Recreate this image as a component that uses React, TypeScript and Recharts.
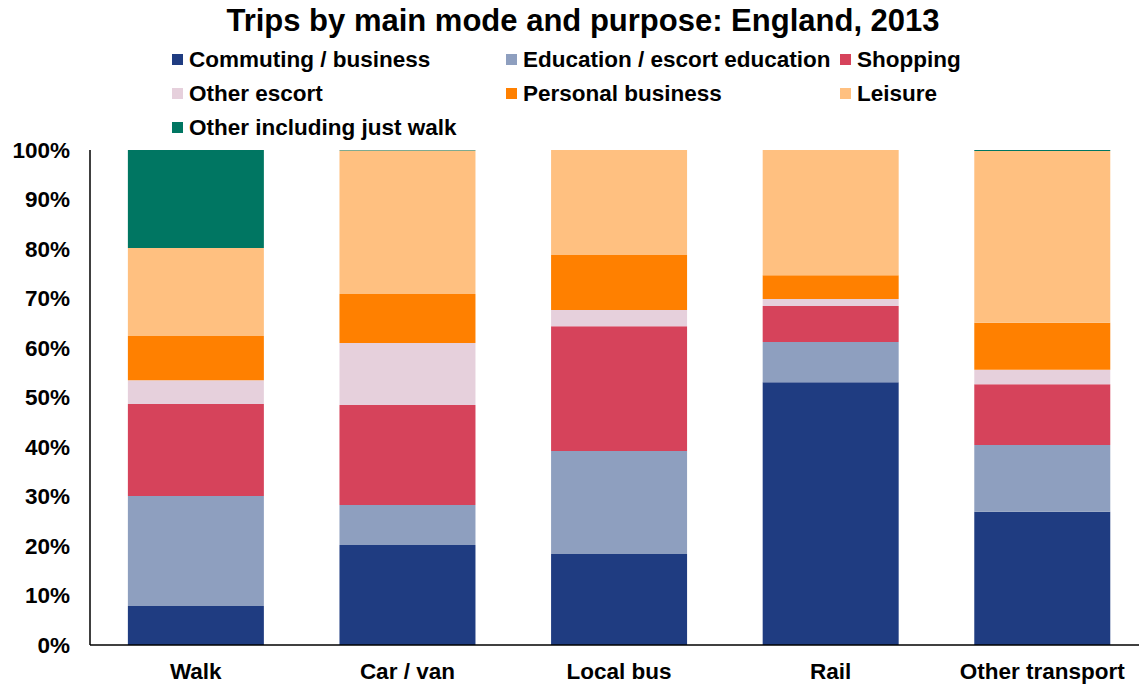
import { Bar, BarChart, XAxis, YAxis } from "recharts"

const modes = ["Walk", "Car / van", "Local bus", "Rail", "Other transport"]

const commuting = [7.9, 20.2, 18.4, 53.1, 26.9]
const education = [22.2, 8.1, 20.8, 8.1, 13.5]
const shopping = [18.6, 20.2, 25.2, 7.3, 12.3]
const otherEscort = [4.8, 12.5, 3.3, 1.4, 2.9]
const personal = [8.9, 9.9, 11.1, 4.8, 9.5]
const leisure = [17.8, 29.0, 21.2, 25.3, 34.7]
const otherWalk = [19.8, 0.1, 0, 0, 0.2]

const yTicks = [0, 10, 20, 30, 40, 50, 60, 70, 80, 90, 100]

const series = [
  { key: "commuting", name: "Commuting / business", color: "#1F3C81", values: commuting },
  { key: "education", name: "Education / escort education", color: "#8E9FBF", values: education },
  { key: "shopping", name: "Shopping", color: "#D6435B", values: shopping },
  { key: "otherEscort", name: "Other escort", color: "#E6D0DC", values: otherEscort },
  { key: "personal", name: "Personal business", color: "#FF8000", values: personal },
  { key: "leisure", name: "Leisure", color: "#FFC080", values: leisure },
  { key: "otherWalk", name: "Other including just walk", color: "#007662", values: otherWalk },
]

const data = modes.map((mode, i) => {
  const row: Record<string, string | number> = { mode }
  series.forEach((s) => {
    row[s.key] = s.values[i]
  })
  return row
})

const font = "'Liberation Sans', Arial, sans-serif"
const tickStyle = { fill: "#000", fontSize: 22.5, fontWeight: 700, fontFamily: font }

function LegendGrid() {
  return (
    <div
      style={{
        position: "absolute",
        top: 47,
        left: 172,
        display: "grid",
        gridTemplateColumns: "334px 334px 300px",
        rowGap: 9,
        fontFamily: font,
        fontWeight: 700,
        fontSize: 22.5,
        color: "#000",
      }}
    >
      {series.map((s) => (
        <div key={s.key} style={{ display: "flex", alignItems: "center", height: 25 }}>
          <span style={{ width: 11, height: 11, background: s.color, marginRight: 6, flexShrink: 0 }} />
          <span style={{ whiteSpace: "nowrap" }}>{s.name}</span>
        </div>
      ))}
    </div>
  )
}

export default function App() {
  return (
    <div
      style={{
        position: "absolute",
        left: 0,
        top: 0,
        width: 1139,
        height: 684,
        overflow: "hidden",
        background: "#fff",
      }}
    >
      <BarChart
        width={1150}
        height={684}
        data={data}
        barCategoryGap="17.9%"
        margin={{ top: 150, right: 2, bottom: 9, left: 10 }}
      >
        <XAxis
          dataKey="mode"
          axisLine={{ stroke: "#000", strokeWidth: 1.5 }}
          tickLine={false}
          height={30}
          tickMargin={12}
          tick={tickStyle}
          interval={0}
        />
        <YAxis
          type="number"
          domain={[0, 100]}
          ticks={yTicks}
          width={80}
          axisLine={{ stroke: "#000", strokeWidth: 1.5 }}
          tickLine={false}
          tickMargin={14}
          tickFormatter={(v) => `${v}%`}
          tick={tickStyle}
          allowDataOverflow
        />
        {series.map((s) => (
          <Bar key={s.key} dataKey={s.key} name={s.name} stackId="a" fill={s.color} isAnimationActive={false} />
        ))}
      </BarChart>
      <div
        style={{
          position: "absolute",
          top: 3,
          left: 0,
          width: 1166,
          textAlign: "center",
          fontFamily: font,
          fontWeight: 700,
          fontSize: 31,
          color: "#000",
        }}
      >
        Trips by main mode and purpose: England, 2013
      </div>
      <LegendGrid />
    </div>
  )
}
